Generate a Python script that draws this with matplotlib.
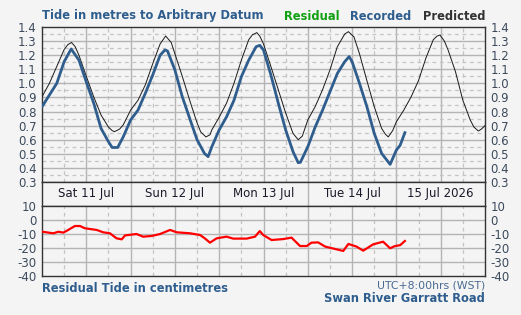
import matplotlib
matplotlib.use("Agg")
import matplotlib.pyplot as plt
import numpy as np

# ---- data (hours from Sat 11 Jul 2026 00:00, WST) ----
pred_hours = [0, 2, 4, 6, 7, 8, 9, 10, 12, 14, 16, 18, 19, 19.6, 21, 22, 24, 26, 28, 30,
              32, 33.5, 35, 36, 38, 40, 42, 43, 44.4, 45.5, 46, 48, 50, 52, 54, 56, 57,
              58.2, 59, 60, 62, 64, 66, 68, 69.4, 70.5, 72, 74, 76, 78, 80, 82, 83, 84.5,
              86, 88, 90, 92, 93, 93.8, 95, 96, 98, 100, 102, 104, 106, 107, 107.8, 109,
              110, 112, 114, 116, 117, 118.2, 119, 120]
pred_vals = [0.905, 1.00, 1.12, 1.24, 1.275, 1.29, 1.26, 1.20, 1.05, 0.905, 0.775, 0.69,
             0.665, 0.657, 0.675, 0.705, 0.81, 0.88, 0.99, 1.14, 1.28, 1.336, 1.29, 1.21,
             1.05, 0.88, 0.72, 0.655, 0.62, 0.635, 0.67, 0.76, 0.86, 1.00, 1.165, 1.31,
             1.345, 1.36, 1.335, 1.28, 1.12, 0.955, 0.79, 0.645, 0.60, 0.625, 0.74, 0.835,
             0.955, 1.095, 1.26, 1.35, 1.367, 1.33, 1.21, 1.02, 0.835, 0.68, 0.64, 0.62,
             0.665, 0.728, 0.81, 0.905, 1.02, 1.18, 1.31, 1.335, 1.343, 1.30, 1.237, 1.083,
             0.88, 0.74, 0.69, 0.662, 0.675, 0.70]

rec_hours = [0, 2, 4, 6, 7.9, 10, 12, 14, 16, 18, 19, 20.5, 22, 24, 26, 28, 30, 32, 33.3,
             34, 36, 38, 40, 42, 44, 45, 46, 48, 50, 52, 54, 56, 58, 59, 60, 62, 64, 66,
             68, 69.4, 70, 72, 74, 76, 78, 80, 82, 83.2, 84, 86, 88, 90, 92, 94.3, 96,
             97, 98.3]
rec_vals = [0.834, 0.917, 1.00, 1.154, 1.244, 1.165, 1.01, 0.86, 0.68, 0.586, 0.545, 0.545,
            0.62, 0.74, 0.81, 0.93, 1.06, 1.20, 1.237, 1.23, 1.095, 0.905, 0.752, 0.60,
            0.503, 0.48, 0.55, 0.67, 0.763, 0.88, 1.047, 1.165, 1.26, 1.27, 1.237, 1.06,
            0.86, 0.67, 0.515, 0.437, 0.44, 0.55, 0.69, 0.81, 0.94, 1.07, 1.154, 1.19,
            1.154, 1.00, 0.835, 0.645, 0.503, 0.425, 0.527, 0.56, 0.65]

res_hours = [0.1, 3.1, 4.4, 5.8, 7.1, 8.9, 10.3, 11.6, 14.8, 16.6, 18.4, 20.2, 21.6, 22.5,
             25.6, 27.4, 29.7, 32.0, 34.7, 36.5, 40.1, 42.8, 44.1, 45.5, 47.3, 50.0, 51.8,
             55.4, 57.7, 59.0, 59.9, 62.2, 65.4, 67.6, 69.9, 71.7, 73.0, 74.8, 76.7, 79.4,
             81.6, 83.0, 85.2, 87.0, 89.7, 92.4, 94.3, 95.6, 97.0, 98.3]
res_vals = [-8.4, -9.5, -8.4, -9.0, -7.1, -4.3, -4.3, -5.9, -7.1, -8.8, -9.5, -13.1, -13.8,
            -11.0, -10.0, -11.9, -11.4, -10.0, -7.1, -8.8, -9.5, -10.7, -13.1, -16.2, -13.1,
            -11.9, -13.3, -13.3, -11.9, -7.9, -10.7, -14.3, -13.6, -12.6, -18.6, -18.6,
            -16.2, -16.0, -19.0, -20.7, -22.1, -17.1, -19.0, -21.9, -17.4, -15.5, -20.2,
            -18.6, -18.0, -15.0]

day_labels = ["Sat 11 Jul", "Sun 12 Jul", "Mon 13 Jul", "Tue 14 Jul", "15 Jul 2026"]
tide_ticks = [0.3, 0.4, 0.5, 0.6, 0.7, 0.8, 0.9, 1.0, 1.1, 1.2, 1.3, 1.4]
res_ticks = [-40, -30, -20, -10, 0, 10]

# ---- style ----
BG = "#f4f4f4"
BLUE = "#2f5e8e"
TICKC = "#3c4a5c"
FRAME = "#333333"
GRID = "#b4b4b4"
GRIDD = "#c4c4c4"
FS = 8.5

W, H = 521, 315
fig = plt.figure(figsize=(W / 100, H / 100), dpi=100, facecolor=BG)

def fx(px):
    return px / W

def fy(py):
    return 1 - py / H

L, R = 42, 485
axT = fig.add_axes([fx(L), fy(182), fx(R - L), (182 - 27) / H], facecolor=BG)
axB = fig.add_axes([fx(L), fy(206), fx(R - L), (206 - 182) / H], facecolor=BG)
axR = fig.add_axes([fx(L), fy(276), fx(R - L), (276 - 206) / H], facecolor=BG)

for ax in (axT, axB, axR):
    ax.set_xlim(0, 120)
    for s in ax.spines.values():
        s.set_color(FRAME)
        s.set_linewidth(1.0)
    ax.tick_params(length=0)

# vertical grid
for ax in (axT, axR):
    for h in np.arange(12, 120, 12):
        ax.axvline(h, color=GRID, lw=1.0, zorder=1)
    for h in np.arange(6, 120, 12):
        ax.axvline(h, color=GRIDD, lw=0.9, ls=(0, (3, 3)), zorder=1)

# top panel
axT.set_ylim(0.3, 1.4)
for v in tide_ticks[1:-1]:
    axT.axhline(v, color=GRID, lw=1.0, zorder=1)
for v in np.arange(0.35, 1.4, 0.1):
    axT.axhline(v, color=GRIDD, lw=0.9, ls=(0, (3, 3)), zorder=1)
axT.plot(pred_hours, pred_vals, color="#1a1a1a", lw=0.7, zorder=3)
axT.plot(rec_hours, rec_vals, color=BLUE, lw=2.0, zorder=4)
axT.set_yticks(tide_ticks)
axT.set_yticklabels([f"{v:.1f}" for v in tide_ticks])
axT.set_xticks([])
axT.tick_params(axis="y", labelsize=FS, labelcolor=TICKC, labelleft=True,
                labelright=True, pad=4)

# band with day labels
axB.set_ylim(0, 1)
axB.set_xticks([])
axB.set_yticks([])
for h in (24, 48, 72, 96):
    axB.axvline(h, color=GRID, lw=1.0)
for i, lab in enumerate(day_labels):
    axB.text(12 + 24 * i, 0.5, lab, ha="center", va="center", fontsize=FS,
             color="#1a1a2a")

# residual panel
axR.set_ylim(-40, 10)
for v in (-30, -20, -10, 0):
    axR.axhline(v, color=GRID, lw=1.0, zorder=1)
axR.plot(res_hours, res_vals, color="#ff0000", lw=1.6, zorder=3)
axR.set_yticks(res_ticks)
axR.set_yticklabels([str(v) for v in res_ticks])
axR.set_xticks([])
axR.tick_params(axis="y", labelsize=FS, labelcolor=TICKC, labelleft=True,
                labelright=True, pad=4)

# texts
fig.text(fx(42), fy(16), "Tide in metres to Arbitrary Datum", fontsize=8.3,
         fontweight="bold", color=BLUE, va="center", ha="left")
fig.text(fx(284), fy(16), "Residual", fontsize=8.3, fontweight="bold",
         color="#10a010", va="center", ha="left")
fig.text(fx(350), fy(16), "Recorded", fontsize=8.3, fontweight="bold",
         color=BLUE, va="center", ha="left")
fig.text(fx(485), fy(16), "Predicted", fontsize=8.3, fontweight="bold",
         color="#333333", va="center", ha="right")
fig.text(fx(42), fy(289), "Residual Tide in centimetres", fontsize=8.3,
         fontweight="bold", color=BLUE, va="center", ha="left")
fig.text(fx(485), fy(285), "UTC+8:00hrs (WST)", fontsize=7.8, color="#4a6a90",
         va="center", ha="right")
fig.text(fx(485), fy(299), "Swan River Garratt Road", fontsize=8.3,
         fontweight="bold", color=BLUE, va="center", ha="right")

fig.savefig("out.png", dpi=100, facecolor=BG)
